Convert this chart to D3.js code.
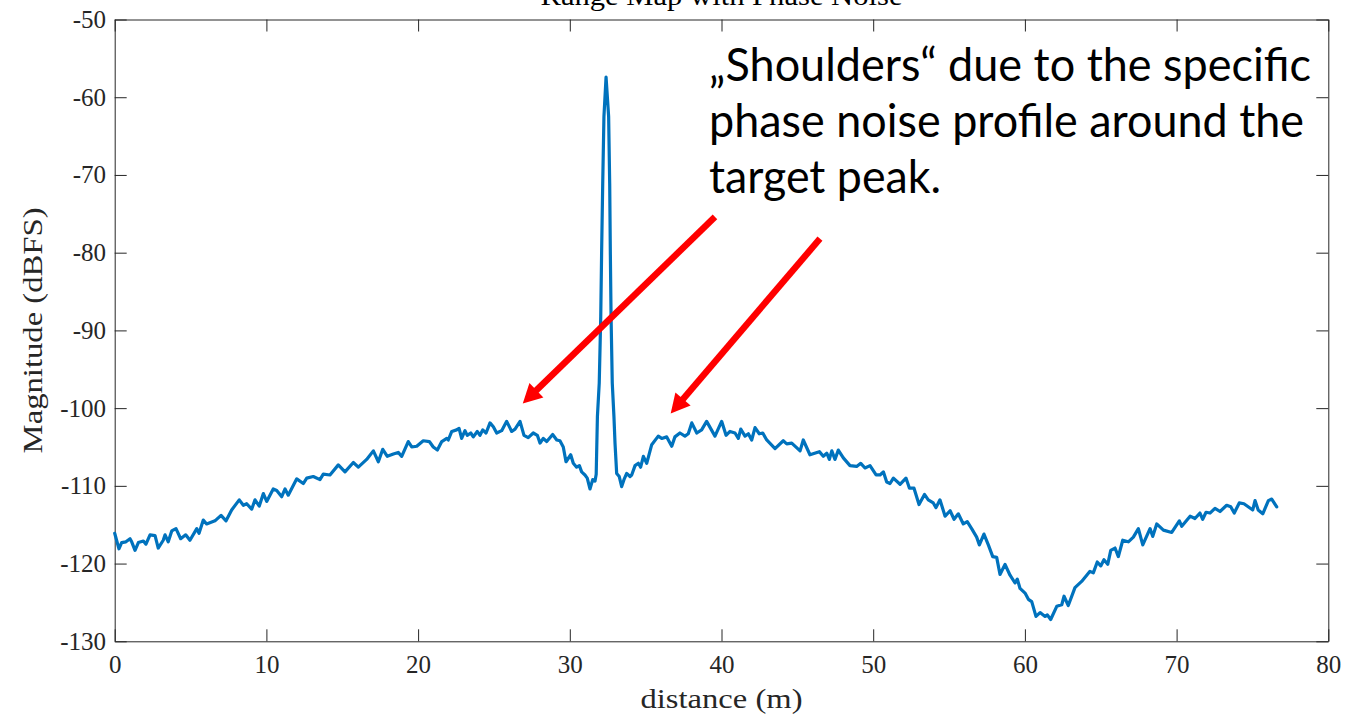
<!DOCTYPE html>
<html>
<head>
<meta charset="utf-8">
<script src="https://cdn.jsdelivr.net/npm/d3@7"></script>
<style>
  html, body { margin: 0; padding: 0; background: #ffffff; overflow: hidden; }
  svg { display: block; }
</style>
</head>
<body>
<svg id="chart" width="1366" height="714"></svg>
<script>
// Range profile (distance in metres, magnitude in dBFS)
const distance = [
  0.00, 0.28, 0.46, 0.74, 1.01, 1.12, 1.34, 1.56, 1.89, 2.06, 2.33, 2.66, 2.87, 3.20, 3.32, 3.53,
  3.76, 4.04, 4.35, 4.68, 4.96, 5.41, 5.56, 5.84, 6.06, 6.61, 7.01, 7.34, 7.71, 8.21, 8.48, 8.70,
  9.03, 9.25, 9.53, 9.80, 10.02, 10.45, 10.68, 11.01, 11.23, 11.44, 12.00, 12.43, 12.66, 13.09, 13.53, 13.75,
  14.19, 14.74, 15.18, 15.73, 16.06, 16.61, 17.05, 17.38, 17.67, 17.97, 18.37, 18.69, 18.92, 19.35, 19.58, 19.91,
  20.34, 20.74, 21.00, 21.27, 21.56, 21.89, 21.99, 22.22, 22.54, 22.70, 22.87, 23.09, 23.24, 23.47, 23.64, 23.90,
  24.08, 24.26, 24.48, 24.74, 24.96, 25.18, 25.51, 25.84, 26.17, 26.39, 26.72, 26.98, 27.26, 27.59, 27.86, 28.04,
  28.25, 28.48, 28.87, 29.14, 29.35, 29.57, 29.75, 30.06, 30.23, 30.45, 30.63, 30.78, 31.00, 31.15, 31.33, 31.51,
  31.66, 31.74, 31.82, 31.94, 32.04, 32.10, 32.17, 32.25, 32.39, 32.56, 32.63, 32.67, 32.72, 32.80, 32.91, 32.98,
  33.09, 33.26, 33.42, 33.57, 33.75, 33.97, 34.08, 34.30, 34.52, 34.67, 34.85, 35.07, 35.40, 35.83, 36.06, 36.39,
  36.72, 36.93, 37.26, 37.59, 37.81, 38.04, 38.37, 38.69, 39.02, 39.57, 40.01, 40.30, 40.56, 40.89, 41.11, 41.27,
  41.55, 41.77, 41.99, 42.21, 42.49, 42.72, 42.98, 43.53, 44.07, 44.30, 44.63, 45.18, 45.39, 45.83, 46.45, 46.71,
  46.94, 47.11, 47.27, 47.48, 47.70, 48.03, 48.47, 48.91, 49.18, 49.46, 49.79, 50.19, 50.45, 50.67, 50.89, 51.11,
  51.33, 51.77, 52.16, 52.39, 52.69, 53.02, 53.38, 53.63, 53.96, 54.14, 54.40, 54.74, 55.07, 55.33, 55.61, 55.94,
  56.20, 56.49, 56.82, 57.00, 57.30, 57.59, 57.88, 58.14, 58.36, 58.69, 59.02, 59.35, 59.50, 59.68, 60.01, 60.23,
  60.45, 60.73, 61.00, 61.33, 61.48, 61.70, 62.10, 62.43, 62.58, 62.86, 63.30, 63.74, 64.29, 64.51, 64.77, 65.00,
  65.21, 65.46, 65.66, 65.94, 66.16, 66.45, 66.82, 67.15, 67.48, 67.77, 68.25, 68.43, 68.69, 69.13, 69.68, 70.18,
  70.34, 70.89, 71.21, 71.54, 71.72, 71.94, 72.20, 72.53, 72.86, 73.30, 73.57, 73.80, 74.13, 74.44, 75.02, 75.17,
  75.38, 75.68, 76.05, 76.27, 76.60
];
const magnitude = [
  -116.1, -118.1, -117.3, -117.2, -116.8, -117.2, -118.3, -117.3, -117.1, -117.5, -116.3, -116.4, -118.0, -117.0, -116.3, -117.2,
  -115.8, -115.5, -116.8, -116.3, -117.0, -115.5, -116.1, -114.4, -114.9, -114.5, -113.8, -114.5, -113.1, -111.8, -112.5, -112.3,
  -113.0, -111.8, -112.6, -111.0, -112.0, -110.4, -110.6, -111.4, -110.4, -111.2, -109.1, -109.7, -109.0, -108.8, -109.2, -108.5,
  -108.6, -107.3, -108.2, -107.0, -107.6, -106.6, -105.5, -106.9, -105.3, -106.2, -105.9, -105.7, -106.2, -104.3, -105.0, -104.9,
  -104.2, -104.3, -105.0, -105.4, -104.3, -103.9, -104.1, -103.0, -102.8, -102.6, -103.9, -102.9, -103.5, -103.2, -103.7, -103.0,
  -103.5, -102.8, -103.2, -101.9, -102.4, -103.2, -102.9, -101.7, -103.0, -102.7, -101.7, -103.5, -103.8, -103.2, -103.5, -104.5,
  -103.9, -104.3, -103.4, -104.1, -104.2, -105.0, -106.9, -106.0, -107.1, -107.6, -107.4, -108.2, -108.6, -109.0, -110.4, -109.2,
  -109.4, -108.5, -101.1, -96.8, -88.2, -79.6, -71.1, -62.5, -57.4, -62.5, -71.1, -79.6, -88.2, -96.8, -101.1, -104.5,
  -108.4, -108.8, -110.1, -109.2, -108.4, -108.8, -108.6, -107.4, -107.1, -107.6, -106.2, -107.1, -104.7, -103.6, -103.9, -103.7,
  -104.9, -103.7, -103.2, -103.6, -103.3, -101.9, -103.2, -102.8, -101.7, -103.6, -101.7, -103.5, -103.0, -103.2, -103.9, -102.7,
  -103.6, -103.3, -104.1, -102.5, -103.3, -103.2, -104.1, -105.2, -104.2, -104.6, -104.5, -105.5, -104.1, -106.0, -105.6, -106.2,
  -105.8, -106.6, -105.5, -106.6, -105.4, -106.4, -107.4, -107.5, -107.1, -107.7, -107.4, -108.6, -108.6, -108.2, -109.5, -109.7,
  -109.0, -109.8, -109.0, -110.3, -110.3, -112.4, -111.1, -111.8, -112.2, -112.8, -111.8, -113.9, -113.2, -114.3, -113.6, -114.9,
  -114.6, -115.5, -116.6, -117.6, -116.2, -117.6, -119.1, -119.2, -121.4, -120.1, -121.5, -122.5, -122.0, -123.2, -123.8, -124.6,
  -124.9, -126.8, -126.3, -126.8, -126.6, -127.2, -125.5, -125.3, -124.2, -125.4, -123.1, -122.3, -121.0, -121.2, -119.8, -120.3,
  -119.5, -120.1, -118.3, -118.0, -119.1, -117.0, -117.2, -116.6, -115.5, -117.6, -115.5, -116.5, -114.9, -115.7, -116.0, -114.5,
  -115.2, -113.9, -114.2, -113.5, -114.3, -113.4, -113.5, -112.9, -113.3, -112.5, -112.7, -113.5, -112.2, -112.3, -113.1, -111.9,
  -113.1, -113.6, -111.9, -111.7, -112.7
];

const xTickValues = [0, 10, 20, 30, 40, 50, 60, 70, 80];
const yTickValues = [-130, -120, -110, -100, -90, -80, -70, -60, -50];
const xDomain = [0, 80];
const yDomain = [-130, -50];

const titleText = "Range Map with Phase Noise";
const xLabelText = "distance (m)";
const yLabelText = "Magnitude (dBFS)";
const noteLines = ["\u201EShoulders\u201C due to the specific", "phase noise profile around the", "target peak."];

// Annotation arrows, given in axis units (distance, dBFS)
const arrowTails = [[39.57, -75.4], [46.49, -78.2]];
const arrowTips  = [[26.90, -99.4], [36.65, -100.7]];

// ---------------------------------------------------------------------------
const svg = d3.select("#chart");
const plot = { left: 114.7, right: 1328.3, top: 19.5, bottom: 641.3 };
const serif = "'Liberation Serif', 'Times New Roman', serif";
const axisColor = "#262626";

const x = d3.scaleLinear().domain(xDomain).range([plot.left, plot.right]);
const y = d3.scaleLinear().domain(yDomain).range([plot.bottom, plot.top]);

svg.append("rect").attr("width", 1366).attr("height", 714).attr("fill", "#ffffff");

// Title (sits just above the axes box, partly above the page edge)
svg.append("text")
  .attr("x", (plot.left + plot.right) / 2).attr("y", 5)
  .attr("text-anchor", "middle")
  .attr("font-family", serif).attr("font-size", 27)
  .attr("textLength", 362).attr("lengthAdjust", "spacingAndGlyphs")
  .attr("fill", "#000").text(titleText);

const fmt = d => String(d);
const tickLen = 12;

function styleAxis(g) {
  g.selectAll("path.domain").attr("stroke", axisColor).attr("stroke-width", 1);
  g.selectAll(".tick line").attr("stroke", axisColor).attr("stroke-width", 1);
  g.selectAll(".tick text").attr("fill", axisColor)
    .attr("font-family", serif).attr("font-size", 25);
}

// Bottom axis
svg.append("g")
  .attr("transform", `translate(0,${plot.bottom})`)
  .call(d3.axisBottom(x).tickValues(xTickValues).tickFormat(fmt)
        .tickSizeInner(-tickLen).tickSizeOuter(0).tickPadding(13.6))
  .call(g => g.attr("font-family", null).attr("font-size", null))
  .call(styleAxis);

// Top axis (ticks only)
svg.append("g")
  .attr("transform", `translate(0,${plot.top})`)
  .call(d3.axisTop(x).tickValues(xTickValues).tickFormat("")
        .tickSizeInner(-tickLen).tickSizeOuter(0))
  .call(styleAxis);

// Left axis
svg.append("g")
  .attr("transform", `translate(${plot.left},0)`)
  .call(d3.axisLeft(y).tickValues(yTickValues).tickFormat(fmt)
        .tickSizeInner(-tickLen).tickSizeOuter(0).tickPadding(8.7))
  .call(g => g.attr("font-family", null).attr("font-size", null))
  .call(styleAxis);

// Right axis (ticks only)
svg.append("g")
  .attr("transform", `translate(${plot.right},0)`)
  .call(d3.axisRight(y).tickValues(yTickValues).tickFormat("")
        .tickSizeInner(-tickLen).tickSizeOuter(0))
  .call(styleAxis);

// Axis labels
svg.append("text")
  .attr("x", (plot.left + plot.right) / 2).attr("y", 708)
  .attr("text-anchor", "middle")
  .attr("font-family", serif).attr("font-size", 27)
  .attr("textLength", 162).attr("lengthAdjust", "spacingAndGlyphs")
  .attr("fill", axisColor).text(xLabelText);

svg.append("text")
  .attr("transform", `translate(42,${(plot.top + plot.bottom) / 2}) rotate(-90)`)
  .attr("text-anchor", "middle")
  .attr("font-family", serif).attr("font-size", 27)
  .attr("textLength", 246).attr("lengthAdjust", "spacingAndGlyphs")
  .attr("fill", axisColor).text(yLabelText);

// Range profile trace
const points = distance.map((d, i) => [d, magnitude[i]]);
const line = d3.line().x(d => x(d[0])).y(d => y(d[1]));
svg.append("path")
  .datum(points)
  .attr("d", line)
  .attr("fill", "none")
  .attr("stroke", "#0072BD")
  .attr("stroke-width", 3.2)
  .attr("stroke-linejoin", "round")
  .attr("stroke-linecap", "round");

// Annotation arrows
const shaftWidth = 6.5, headLen = 19, headHalf = 10;
arrowTails.forEach((tail, i) => {
  const tip = arrowTips[i];
  const x0 = x(tail[0]), y0 = y(tail[1]);
  const x1 = x(tip[0]), y1 = y(tip[1]);
  const len = Math.hypot(x1 - x0, y1 - y0);
  const ux = (x1 - x0) / len, uy = (y1 - y0) / len;
  const bx = x1 - ux * headLen, by = y1 - uy * headLen;
  svg.append("line")
    .attr("x1", x0).attr("y1", y0).attr("x2", bx + ux * 2).attr("y2", by + uy * 2)
    .attr("stroke", "#FF0000").attr("stroke-width", shaftWidth);
  svg.append("path")
    .attr("d", `M${x1},${y1}L${bx - uy * headHalf},${by + ux * headHalf}L${bx + uy * headHalf},${by - ux * headHalf}Z`)
    .attr("fill", "#FF0000");
});

// Annotation text
const noteWidths = [602, 595, 232];
const noteBaselines = [81, 137, 193];
noteLines.forEach((t, i) => {
  svg.append("text")
    .attr("x", 709).attr("y", noteBaselines[i])
    .attr("font-family", "Lato, 'Open Sans', sans-serif").attr("font-size", 47)
    .attr("textLength", noteWidths[i]).attr("lengthAdjust", "spacingAndGlyphs")
    .attr("fill", "#000").text(t);
});
</script>
</body>
</html>
